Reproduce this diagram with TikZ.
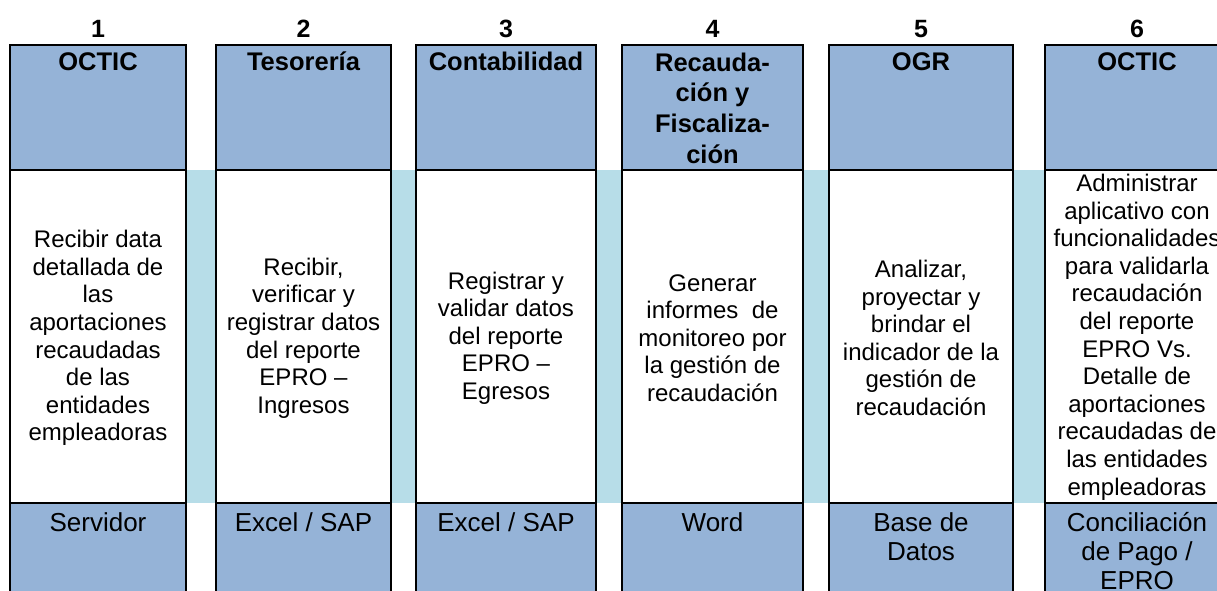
\documentclass[tikz,border=0pt]{standalone}
\usepackage{fontspec}
\setmainfont{Liberation Sans}
\definecolor{hdrblue}{HTML}{95B3D7}
\definecolor{bandblue}{HTML}{B7DDE8}
\begin{document}
\begin{tikzpicture}[x=1pt,y=-1pt,
  cellbox/.style={draw=black, line width=2.4pt},
  hdrtext/.style={anchor=base, font=\fontsize{25.5}{30.7}\selectfont\bfseries, align=center, inner sep=0pt},
  bodytext/.style={anchor=center, font=\fontsize{24}{27.6}\selectfont, align=center, inner sep=0pt},
  bottext/.style={anchor=base, font=\fontsize{26}{29}\selectfont, align=center, inner sep=0pt},
  numtext/.style={anchor=base, font=\fontsize{25}{28}\selectfont\bfseries, inner sep=0pt}]
\useasboundingbox (0,0) rectangle (1217,591);
\clip (0,0) rectangle (1217,591);
\fill[white] (0,0) rectangle (1217,591);
% light blue bands between columns
\foreach \a/\b in {186/216, 391/416, 596/622, 803/829, 1013/1045}
  \fill[bandblue] (\a,170) rectangle (\b,503);
% columns
\foreach \l/\r in {10/186, 216/391, 416/596, 622/803, 829/1013, 1045/1229}{
  \draw[cellbox, fill=hdrblue] (\l,45) rectangle (\r,170);
  \draw[cellbox, fill=white] (\l,170) rectangle (\r,503);
  \draw[cellbox, fill=hdrblue] (\l,503) rectangle (\r,610);
}
% numbers
\node[numtext] (n1) at (98,38) {1};
\node[numtext] (n2) at (303.5,38) {2};
\node[numtext] (n3) at (506,38) {3};
\node[numtext] (n4) at (712.5,38) {4};
\node[numtext] (n5) at (921,38) {5};
\node[numtext] (n6) at (1137,38) {6};
% headers (anchor=base is the baseline of the last line)
\node[hdrtext] (h1) at (98,71) {OCTIC};
\node[hdrtext] (h2) at (303.5,71) {Tesorería};
\node[hdrtext] (h3) at (506,71) {Contabilidad};
\node[hdrtext] (h4) at (712.5,163.1) {Recauda-\\ción y\\Fiscaliza-\\ción};
\node[hdrtext] (h5) at (921,71) {OGR};
\node[hdrtext] (h6) at (1137,71) {OCTIC};
% bodies
\node[bodytext] (b1) at (98,338) {Recibir data\\detallada de\\las\\aportaciones\\recaudadas\\de las\\entidades\\empleadoras};
\node[bodytext] (b2) at (303.5,338) {Recibir,\\verificar y\\registrar datos\\del reporte\\EPRO –\\Ingresos};
\node[bodytext] (b3) at (506,338) {Registrar y\\validar datos\\del reporte\\EPRO –\\Egresos};
\node[bodytext] (b4) at (712.5,338) {Generar\\informes~ de\\monitoreo por\\la gestión de\\recaudación};
\node[bodytext] (b5) at (921,338) {Analizar,\\proyectar y\\brindar el\\indicador de la\\gestión de\\recaudación};
\node[bodytext] (b6) at (1137,337) {Administrar\\aplicativo con\\funcionalidades\\para validarla\\recaudación\\del reporte\\EPRO Vs.\\Detalle de\\aportaciones\\recaudadas de\\las entidades\\empleadoras};
% bottoms
\node[bottext] (s1) at (98,531) {Servidor};
\node[bottext] (s2) at (303.5,531) {Excel / SAP};
\node[bottext] (s3) at (506,531) {Excel / SAP};
\node[bottext] (s4) at (712.5,531) {Word};
\node[bottext] (s5) at (921,560) {Base de\\Datos};
\node[bottext] (s6) at (1137,589) {Conciliación\\de Pago /\\EPRO};
\end{tikzpicture}
\end{document}
